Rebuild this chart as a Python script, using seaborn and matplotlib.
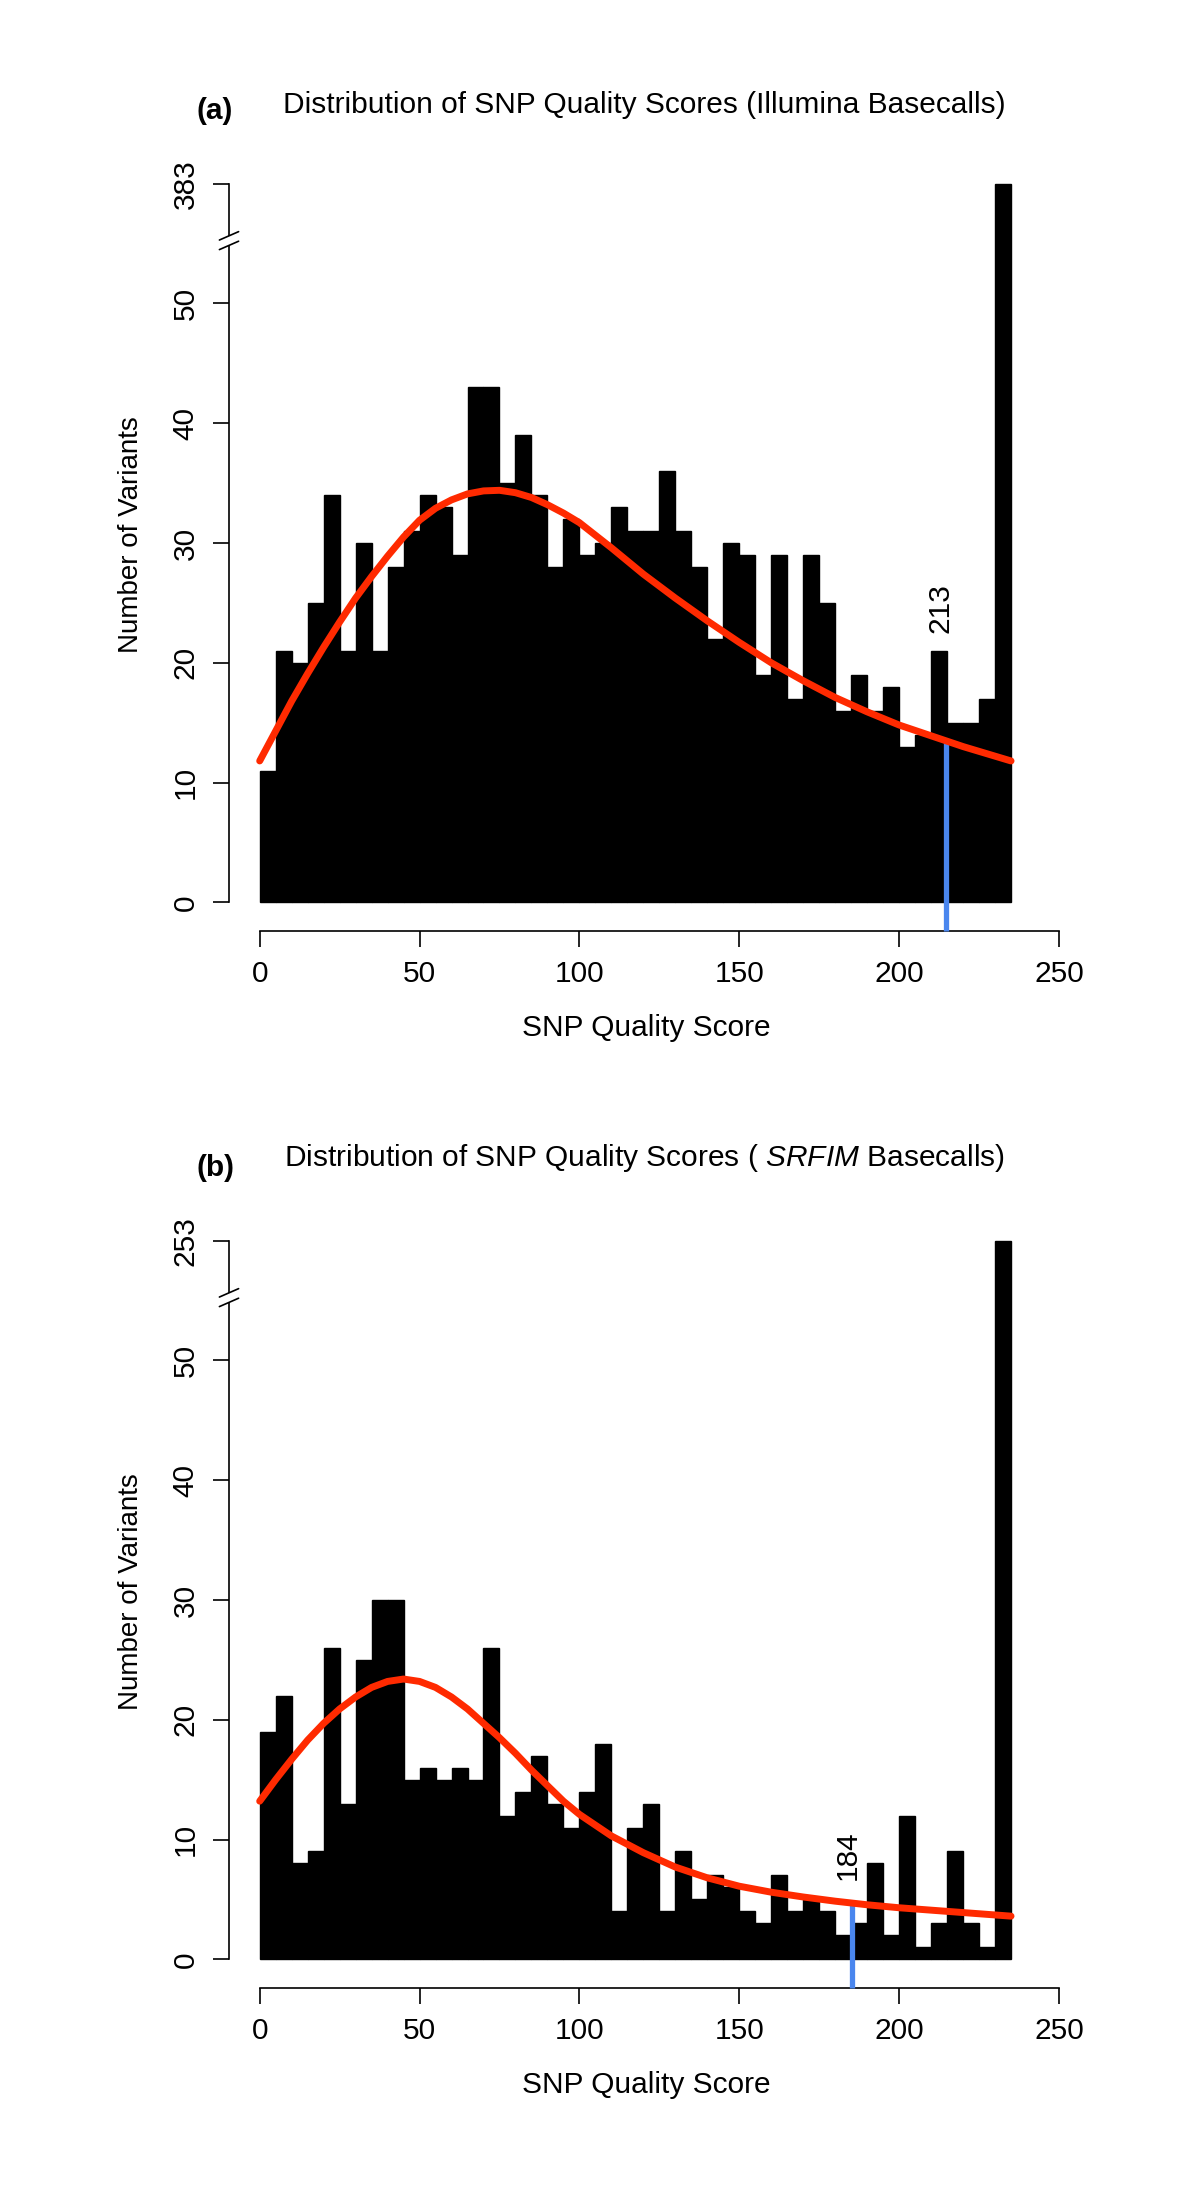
import numpy as np
import pandas as pd
import matplotlib
matplotlib.use('Agg')
import matplotlib.pyplot as plt
import seaborn as sns

# histogram bins: 5 point wide, 0 to 235
bin_edges = list(range(0, 240, 5))

# counts per bin (last bin is the tall one past the axis break)
counts_illumina = [11, 21, 20, 25, 34, 21, 30, 21, 28, 31, 34, 33, 29, 43, 43, 35,
                   39, 34, 28, 32, 29, 30, 33, 31, 31, 36, 31, 28, 22, 30, 29, 19,
                   29, 17, 29, 25, 16, 19, 16, 18, 13, 14, 21, 15, 15, 17, 383]
counts_srfim = [19, 22, 8, 9, 26, 13, 25, 30, 30, 15, 16, 15, 16, 15, 26, 12,
                14, 17, 13, 11, 14, 18, 4, 11, 13, 4, 9, 5, 7, 6, 4, 3,
                7, 4, 5, 4, 2, 3, 8, 2, 12, 1, 3, 9, 3, 1, 253]

# fitted density curves (red)
curve_x_illumina = [0, 5, 10, 15, 20, 25, 30, 35, 40, 45, 50, 55, 60, 65, 70, 75,
                    80, 85, 90, 95, 100, 110, 120, 130, 140, 150, 160, 170, 180,
                    190, 200, 210, 220, 230, 235]
curve_y_illumina = [11.8, 14.3, 16.8, 19.1, 21.3, 23.4, 25.4, 27.2, 28.9, 30.5,
                    31.9, 32.9, 33.6, 34.1, 34.35, 34.4, 34.2, 33.8, 33.2, 32.5,
                    31.7, 29.6, 27.4, 25.4, 23.5, 21.7, 20.0, 18.5, 17.1, 15.9,
                    14.8, 13.9, 13.0, 12.2, 11.8]
curve_x_srfim = [0, 5, 10, 15, 20, 25, 30, 35, 40, 45, 50, 55, 60, 65, 70, 75, 80,
                 85, 90, 95, 100, 110, 120, 130, 140, 150, 160, 170, 180, 190,
                 200, 210, 220, 230, 235]
curve_y_srfim = [13.2, 15.0, 16.7, 18.3, 19.7, 20.9, 21.9, 22.7, 23.2, 23.4, 23.2,
                 22.7, 21.9, 20.9, 19.7, 18.5, 17.2, 15.8, 14.5, 13.2, 12.1, 10.3,
                 8.9, 7.7, 6.8, 6.1, 5.6, 5.2, 4.85, 4.55, 4.3, 4.1, 3.9, 3.7, 3.6]

# quality cutoffs (blue lines)
cutoff_values = [213, 184]
cutoff_line_x = [214.6, 185.4]
cutoff_line_top = [13.5, 4.7]

y_ticks_low = [0, 10, 20, 30, 40, 50]
x_ticks = [0, 50, 100, 150, 200, 250]

RED = '#ff2a00'
BLUE = '#4a86ee'
FS = 21.5
FS_YLAB = 20

sns.set_style('ticks', {'axes.edgecolor': 'black', 'xtick.color': 'black',
                        'ytick.color': 'black', 'text.color': 'black',
                        'axes.labelcolor': 'black'})
plt.rcParams['font.family'] = ['Liberation Sans', 'DejaVu Sans']
plt.rcParams['mathtext.fontset'] = 'custom'
plt.rcParams['mathtext.rm'] = 'Liberation Sans'
plt.rcParams['mathtext.it'] = 'Liberation Sans:italic'

FIG_W, FIG_H = 1200, 2193
fig = plt.figure(figsize=(FIG_W / 100, FIG_H / 100), dpi=100)


def px(x, y):
    return x / FIG_W, 1 - y / FIG_H


def px_box(left, top, right, bottom):
    return [left / FIG_W, 1 - bottom / FIG_H, (right - left) / FIG_W, (bottom - top) / FIG_H]


def make_scale(top_value, gap_start=55.0, top_pos=60.0):
    # linear up to the gap, then squeeze everything above into a few units
    k = (top_pos - gap_start) / (top_value - gap_start)

    def fwd(v):
        v = np.asarray(v, dtype=float)
        return np.where(v <= gap_start, v, gap_start + (v - gap_start) * k)

    def inv(u):
        u = np.asarray(u, dtype=float)
        return np.where(u <= gap_start, u, gap_start + (u - gap_start) / k)
    return fwd, inv


def draw_panel(ax, counts, cx, cy, cut_val, cut_x, cut_top, label_y):
    top_tick = counts[-1]
    fwd, inv = make_scale(top_tick)

    df = pd.DataFrame({'score': np.array(bin_edges[:-1]) + 2.5, 'n': counts})
    sns.histplot(data=df, x='score', weights='n', bins=bin_edges, color='black',
                 alpha=1, edgecolor='black', linewidth=1.0, ax=ax)
    sns.lineplot(x=cx, y=cy, color=RED, linewidth=5, solid_capstyle='round',
                 solid_joinstyle='round', ax=ax, zorder=4)
    ax.plot([cut_x, cut_x], [-2.4, cut_top], color=BLUE, lw=3.8, clip_on=False,
            zorder=3, solid_capstyle='butt')
    ax.text(cut_val, label_y, str(cut_val), rotation=90, ha='center', va='center',
            fontsize=FS)

    ax.set_yscale('function', functions=(fwd, inv))
    ax.set_xlim(-9.6, 249.6)
    ax.set_ylim(-2.4, float(inv(62.4)))

    ax.set_xticks(x_ticks)
    ax.set_yticks(y_ticks_low + [top_tick])
    ax.set_yticklabels([str(t) for t in y_ticks_low + [top_tick]])
    ax.minorticks_off()
    ax.tick_params(length=11.5, width=1.2, labelsize=FS, pad=9.5, direction='out')
    ax.tick_params(axis='y', labelrotation=90)
    for lbl in ax.get_yticklabels():
        lbl.set_va('center')

    sns.despine(ax=ax)
    for side in ('left', 'bottom'):
        ax.spines[side].set_linewidth(1.2)
    ax.spines['left'].set_bounds(0, top_tick)
    ax.spines['bottom'].set_bounds(0, 250)

    # axis break marks
    x0 = -9.6
    y_lo, y_hi = 54.85, 55.65
    ax.plot([x0, x0], inv([y_lo, y_hi]), color='white', lw=3, clip_on=False,
            zorder=5, solid_capstyle='butt')
    for yc in (y_lo, y_hi):
        ax.plot([x0 - 3.0, x0 + 3.0], inv([yc - 0.35, yc + 0.35]), color='black',
                lw=1.2, clip_on=False, zorder=6)

    ax.set_xlabel('SNP Quality Score', fontsize=FS)
    ax.set_ylabel('Number of Variants', fontsize=FS_YLAB)


# panel (a)
ax_a = fig.add_axes(px_box(229, 155, 1059, 931))
draw_panel(ax_a, counts_illumina, curve_x_illumina, curve_y_illumina,
           cutoff_values[0], cutoff_line_x[0], cutoff_line_top[0], 24.6)
ax_a.xaxis.set_label_coords(*px(646, 1028), transform=fig.transFigure)
ax_a.yaxis.set_label_coords(*px(131, 535), transform=fig.transFigure)
fig.text(*px(644, 113), 'Distribution of SNP Quality Scores (Illumina Basecalls)',
         ha='center', va='baseline', fontsize=FS)
fig.text(*px(215, 119), '(a)', ha='center', va='baseline', fontsize=FS,
         fontweight='bold')

# panel (b)
ax_b = fig.add_axes(px_box(229, 1212, 1059, 1988))
draw_panel(ax_b, counts_srfim, curve_x_srfim, curve_y_srfim,
           cutoff_values[1], cutoff_line_x[1], cutoff_line_top[1], 8.7)
ax_b.xaxis.set_label_coords(*px(646, 2085), transform=fig.transFigure)
ax_b.yaxis.set_label_coords(*px(131, 1592), transform=fig.transFigure)
fig.text(*px(644, 1166), 'Distribution of SNP Quality Scores ( $\\mathit{SRFIM}$ Basecalls)',
         ha='center', va='baseline', fontsize=FS)
fig.text(*px(216, 1176), '(b)', ha='center', va='baseline', fontsize=FS,
         fontweight='bold')

for ax in (ax_a, ax_b):
    ax.xaxis.label.set_va('center')
    ax.yaxis.label.set_va('center')

fig.savefig('out.png', dpi=100)
